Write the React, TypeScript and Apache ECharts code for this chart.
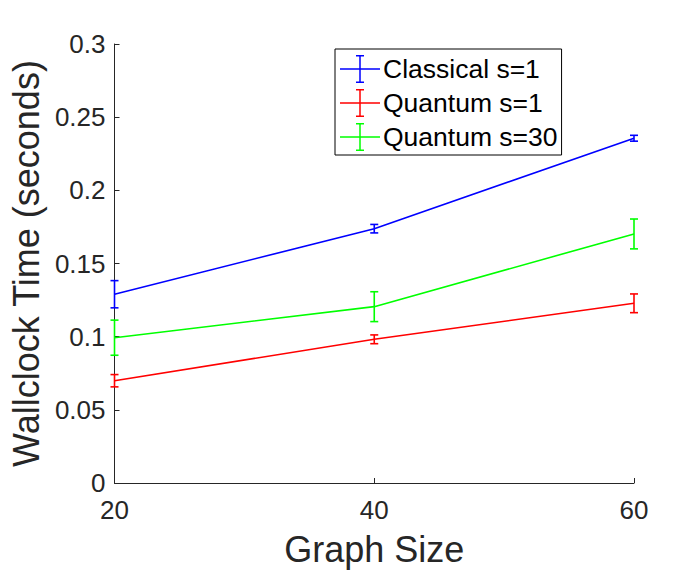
import React, { useEffect, useRef } from "react";
import * as echarts from "echarts";

const graphSizes = [20, 40, 60];
const seriesNames = ["Classical s=1", "Quantum s=1", "Quantum s=30"];
const seriesColors = ["#0000FF", "#FF0000", "#00FF00"];
const classicalS1 = [0.129, 0.1738, 0.2356];
const classicalS1Err = [0.0093, 0.0029, 0.002];
const quantumS1 = [0.0699, 0.0982, 0.1228];
const quantumS1Err = [0.0042, 0.003, 0.0064];
const quantumS30 = [0.0993, 0.1205, 0.1702];
const quantumS30Err = [0.012, 0.0102, 0.0102];
const xTicks = [20, 40, 60];
const yTickInterval = 0.05;

const FONT = '"Liberation Sans", Arial, Helvetica, sans-serif';
const AXIS_COLOR = "#262626";

// legend icon: horizontal line with an error bar (40 x 28 box)
const legendIcon =
  "path://M0,13.25L40,13.25L40,14.75L0,14.75Z" +
  "M19.25,0L20.75,0L20.75,28L19.25,28Z" +
  "M16,0L24,0L24,1.5L16,1.5Z" +
  "M16,26.5L24,26.5L24,28L16,28Z";

export default function App() {
  const ref = useRef<HTMLDivElement>(null);

  useEffect(() => {
    if (!ref.current) return;
    const chart = echarts.init(ref.current, undefined, { renderer: "svg" });
    const values = [classicalS1, quantumS1, quantumS30];
    const errs = [classicalS1Err, quantumS1Err, quantumS30Err];

    const lineSeries = seriesNames.map((name, k) => ({
      name,
      type: "line",
      data: graphSizes.map((x, i) => [x, values[k][i]]),
      symbol: "none",
      lineStyle: { color: seriesColors[k], width: 1.6 },
      itemStyle: { color: seriesColors[k] },
      z: 2,
    }));

    const errSeries = seriesNames.map((name, k) => ({
      name,
      type: "custom",
      data: graphSizes.map((x, i) => [x, values[k][i], errs[k][i]]),
      encode: { x: 0, y: 1 },
      clip: false,
      z: 3,
      renderItem: (params: any, api: any) => {
        const x = api.value(0);
        const y = api.value(1);
        const e = api.value(2);
        const top = api.coord([x, y + e]);
        const bot = api.coord([x, y - e]);
        const hw = 4;
        const style = { stroke: seriesColors[k], lineWidth: 1.6 };
        return {
          type: "group",
          children: [
            { type: "line", shape: { x1: top[0], y1: top[1], x2: bot[0], y2: bot[1] }, style },
            { type: "line", shape: { x1: top[0] - hw, y1: top[1], x2: top[0] + hw, y2: top[1] }, style },
            { type: "line", shape: { x1: bot[0] - hw, y1: bot[1], x2: bot[0] + hw, y2: bot[1] }, style },
          ],
        };
      },
    }));

    chart.setOption({
      animation: false,
      backgroundColor: "#ffffff",
      textStyle: { fontFamily: FONT },
      grid: { left: 112, right: 66, top: 44, bottom: 92, containLabel: false },
      legend: {
        data: seriesNames.map((name) => ({ name, icon: legendIcon })),
        orient: "vertical",
        left: 335,
        top: 49,
        itemWidth: 40,
        itemHeight: 28,
        itemGap: 6,
        padding: [6, 4, 4, 5],
        backgroundColor: "#ffffff",
        borderColor: "#000000",
        borderWidth: 1,
        borderRadius: 0,
        selectedMode: false,
        textStyle: { fontFamily: FONT, fontSize: 26.5, color: "#000000", padding: [0, 0, 0, -2] },
      },
      xAxis: {
        type: "value",
        min: xTicks[0],
        max: xTicks[xTicks.length - 1],
        interval: xTicks[1] - xTicks[0],
        name: "Graph Size",
        nameLocation: "middle",
        nameGap: 48,
        nameTextStyle: { fontFamily: FONT, fontSize: 36, color: AXIS_COLOR },
        axisLine: { show: true, lineStyle: { color: AXIS_COLOR, width: 1 } },
        axisTick: { show: true, inside: true, length: 5, lineStyle: { color: AXIS_COLOR } },
        axisLabel: { fontFamily: FONT, fontSize: 26, color: AXIS_COLOR, margin: 14 },
        splitLine: { show: false },
      },
      yAxis: {
        type: "value",
        min: 0,
        max: 0.3,
        interval: yTickInterval,
        name: "Wallclock Time (seconds)",
        nameLocation: "middle",
        nameGap: 66,
        nameTextStyle: { fontFamily: FONT, fontSize: 36, color: AXIS_COLOR },
        axisLine: { show: true, lineStyle: { color: AXIS_COLOR, width: 1 } },
        axisTick: { show: true, inside: true, length: 5, lineStyle: { color: AXIS_COLOR } },
        axisLabel: { fontFamily: FONT, fontSize: 26, color: AXIS_COLOR, margin: 9 },
        splitLine: { show: false },
      },
      series: [...lineSeries, ...errSeries],
    });

    return () => chart.dispose();
  }, []);

  return (
    <div
      ref={ref}
      style={{ position: "fixed", left: 0, top: 0, width: 700, height: 575, background: "#fff" }}
    />
  );
}
